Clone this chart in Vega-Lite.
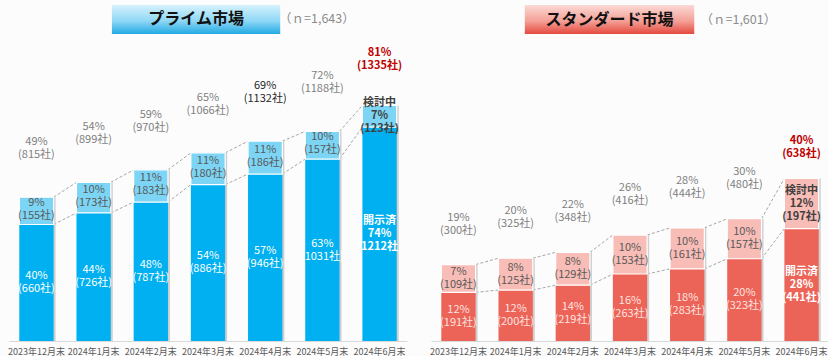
{
  "$schema": "https://vega.github.io/schema/vega-lite/v6.json",
  "background": "#fcfcfc",
  "padding": {"left": 7, "top": 0, "right": 0, "bottom": 0},
  "spacing": 22,
  "config": {
    "view": {"stroke": null},
    "font": "Noto Sans CJK JP",
    "text": {"font": "Noto Sans CJK JP"}
  },
  "datasets": {
    "prime": [
      {"month": "2023年12月末", "dis": 40.17, "total": 49.60, "disL": "40%\n(660社)", "conL": "9%\n(155社)", "totL": "49%\n(815社)"},
      {"month": "2024年1月末", "dis": 44.19, "total": 54.72, "disL": "44%\n(726社)", "conL": "10%\n(173社)", "totL": "54%\n(899社)"},
      {"month": "2024年2月末", "dis": 47.90, "total": 59.04, "disL": "48%\n(787社)", "conL": "11%\n(183社)", "totL": "59%\n(970社)"},
      {"month": "2024年3月末", "dis": 53.93, "total": 64.88, "disL": "54%\n(886社)", "conL": "11%\n(180社)", "totL": "65%\n(1066社)"},
      {"month": "2024年4月末", "dis": 57.58, "total": 68.90, "disL": "57%\n(946社)", "conL": "11%\n(186社)", "totL": "69%\n(1132社)"},
      {"month": "2024年5月末", "dis": 62.75, "total": 72.31, "disL": "63%\n(1031社)", "conL": "10%\n(157社)", "totL": "72%\n(1188社)"},
      {"month": "2024年6月末", "dis": 73.77, "total": 81.25, "disL": "開示済\n74%\n(1212社)", "conL": "検討中\n7%\n(123社)", "totL": "81%\n(1335社)"}
    ],
    "standard": [
      {"month": "2023年12月末", "dis": 11.93, "total": 18.74, "disL": "12%\n(191社)", "conL": "7%\n(109社)", "totL": "19%\n(300社)"},
      {"month": "2024年1月末", "dis": 12.49, "total": 20.30, "disL": "12%\n(200社)", "conL": "8%\n(125社)", "totL": "20%\n(325社)"},
      {"month": "2024年2月末", "dis": 13.68, "total": 21.74, "disL": "14%\n(219社)", "conL": "8%\n(129社)", "totL": "22%\n(348社)"},
      {"month": "2024年3月末", "dis": 16.43, "total": 25.98, "disL": "16%\n(263社)", "conL": "10%\n(153社)", "totL": "26%\n(416社)"},
      {"month": "2024年4月末", "dis": 17.68, "total": 27.73, "disL": "18%\n(283社)", "conL": "10%\n(161社)", "totL": "28%\n(444社)"},
      {"month": "2024年5月末", "dis": 20.17, "total": 29.98, "disL": "20%\n(323社)", "conL": "10%\n(157社)", "totL": "30%\n(480社)"},
      {"month": "2024年6月末", "dis": 27.55, "total": 39.85, "disL": "開示済\n28%\n(441社)", "conL": "検討中\n12%\n(197社)", "totL": "40%\n(638社)"}
    ]
  },
  "hconcat": [
    {
      "width": 398,
      "height": 341,
      "resolve": {"scale": {"x": "independent"}},
      "layer": [
        {
          "data": {"name": "prime"},
          "transform": [
            {"calculate": "datum.dis / 2", "as": "midDis"},
            {"calculate": "(datum.dis + datum.total) / 2", "as": "midCon"}
          ],
          "encoding": {
            "x": {
              "field": "month", "type": "nominal",
              "scale": {"paddingInner": 0.4, "paddingOuter": 0.18},
              "axis": {"title": null, "labelAngle": 0, "ticks": false, "domainColor": "#d9d9d9", "labelColor": "#595959", "labelFontSize": 9, "labelPadding": 6, "labelFont": "Noto Sans CJK JP"}
            }
          },
          "layer": [
            {
              "transform": [
                {"window": [{"op": "lead", "field": "month", "as": "nextMonth"}, {"op": "lead", "field": "total", "as": "nextTotal"}, {"op": "lead", "field": "dis", "as": "nextDis"}], "sort": [{"field": "month"}]},
                {"filter": "datum.nextMonth != null"}
              ],
              "layer": [
                {
                  "mark": {"type": "rule", "color": "#a6a6a6", "strokeDash": [3, 2], "strokeWidth": 1},
                  "encoding": {
                    "x": {"field": "month", "type": "nominal", "bandPosition": 1},
                    "x2": {"field": "nextMonth", "bandPosition": 0},
                    "y": {"field": "total", "type": "quantitative", "scale": {"domain": [0, 117.6], "nice": false}, "axis": null},
                    "y2": {"field": "nextTotal"}
                  }
                },
                {
                  "mark": {"type": "rule", "color": "#a6a6a6", "strokeDash": [3, 2], "strokeWidth": 1},
                  "encoding": {
                    "x": {"field": "month", "type": "nominal", "bandPosition": 1},
                    "x2": {"field": "nextMonth", "bandPosition": 0},
                    "y": {"field": "dis", "type": "quantitative", "scale": {"domain": [0, 117.6], "nice": false}, "axis": null},
                    "y2": {"field": "nextDis"}
                  }
                }
              ]
            },
            {
              "mark": {"type": "bar", "color": "#cfcfcf", "xOffset": 2},
              "encoding": {"y": {"field": "total", "type": "quantitative", "scale": {"domain": [0, 117.6], "nice": false}, "axis": null}}
            },
            {
              "mark": {"type": "bar", "color": "#00b0f0"},
              "encoding": {"y": {"field": "dis", "type": "quantitative", "scale": {"domain": [0, 117.6], "nice": false}, "axis": null}}
            },
            {
              "mark": {"type": "bar", "color": "#7dd5f5", "stroke": "white", "strokeWidth": 1.2},
              "encoding": {
                "y": {"field": "dis", "type": "quantitative", "scale": {"domain": [0, 117.6], "nice": false}, "axis": null},
                "y2": {"field": "total"}
              }
            },
            {
              "transform": [{"filter": "datum.month !== '2024年6月末'"}],
              "mark": {"type": "text", "lineBreak": "\n", "fontSize": 11, "lineHeight": 13, "baseline": "middle", "dy": -6.5, "color": "white"},
              "encoding": {"y": {"field": "midDis", "type": "quantitative"}, "text": {"field": "disL"}}
            },
            {
              "transform": [{"filter": "datum.month === '2024年6月末'"}],
              "mark": {"type": "text", "lineBreak": "\n", "fontSize": 11, "lineHeight": 13, "baseline": "middle", "dy": -13, "color": "white", "fontWeight": "bold"},
              "encoding": {"y": {"field": "midDis", "type": "quantitative"}, "text": {"field": "disL"}}
            },
            {
              "transform": [{"filter": "datum.month !== '2024年6月末'"}],
              "mark": {"type": "text", "lineBreak": "\n", "fontSize": 11, "lineHeight": 13, "baseline": "middle", "dy": -8, "color": "#595959"},
              "encoding": {"y": {"field": "midCon", "type": "quantitative"}, "text": {"field": "conL"}}
            },
            {
              "transform": [{"filter": "datum.month === '2024年6月末'"}],
              "mark": {"type": "text", "lineBreak": "\n", "fontSize": 11, "lineHeight": 13, "baseline": "middle", "dy": -13, "color": "#404040", "fontWeight": "bold"},
              "encoding": {"y": {"field": "midCon", "type": "quantitative"}, "text": {"field": "conL"}}
            },
            {
              "transform": [{"filter": "datum.month !== '2024年6月末'"}],
              "mark": {"type": "text", "lineBreak": "\n", "fontSize": 11, "lineHeight": 13, "baseline": "middle", "dy": -55},
              "encoding": {
                "y": {"field": "total", "type": "quantitative"},
                "text": {"field": "totL"},
                "color": {"condition": {"test": "datum.month === '2024年4月末'", "value": "#262626"}, "value": "#7f7f7f"}
              }
            },
            {
              "transform": [{"filter": "datum.month === '2024年6月末'"}],
              "mark": {"type": "text", "lineBreak": "\n", "fontSize": 11, "lineHeight": 13, "baseline": "middle", "dy": -52, "color": "#c00000", "fontWeight": "bold"},
              "encoding": {"y": {"field": "total", "type": "quantitative"}, "text": {"field": "totL"}}
            }
          ]
        },
        {
          "data": {"values": [{"title": "プライム市場", "n": "（ｎ=1,643）"}]},
          "layer": [
            {
              "mark": {"type": "rect", "color": {"gradient": "linear", "x1": 0, "y1": 0, "x2": 0, "y2": 1, "stops": [{"offset": 0, "color": "#d6f2fd"}, {"offset": 0.55, "color": "#8fd8f5"}, {"offset": 1, "color": "#22a9e3"}]}},
              "encoding": {
                "x": {"datum": 1.81, "type": "quantitative", "scale": {"domain": [0, 7], "nice": false, "zero": false}, "axis": null},
                "x2": {"datum": 4.77},
                "y": {"datum": 115.9, "type": "quantitative", "scale": {"domain": [0, 117.6], "nice": false}, "axis": null},
                "y2": {"datum": 105.9}
              }
            },
            {
              "mark": {"type": "text", "fontSize": 16, "fontWeight": "bold", "color": "#111111", "baseline": "middle", "align": "center"},
              "encoding": {
                "x": {"datum": 3.29, "type": "quantitative"},
                "y": {"datum": 110.9, "type": "quantitative"},
                "text": {"field": "title"}
              }
            },
            {
              "mark": {"type": "text", "fontSize": 12.5, "color": "#8c8c8c", "baseline": "middle", "align": "left"},
              "encoding": {
                "x": {"datum": 4.75, "type": "quantitative"},
                "y": {"datum": 110.9, "type": "quantitative"},
                "text": {"field": "n"}
              }
            }
          ]
        }
      ]
    },
    {
      "width": 398,
      "height": 341,
      "resolve": {"scale": {"x": "independent"}},
      "layer": [
        {
          "data": {"name": "standard"},
          "transform": [
            {"calculate": "datum.dis / 2", "as": "midDis"},
            {"calculate": "(datum.dis + datum.total) / 2", "as": "midCon"}
          ],
          "encoding": {
            "x": {
              "field": "month", "type": "nominal",
              "scale": {"paddingInner": 0.4, "paddingOuter": 0.18},
              "axis": {"title": null, "labelAngle": 0, "ticks": false, "domainColor": "#d9d9d9", "labelColor": "#595959", "labelFontSize": 9, "labelPadding": 6, "labelFont": "Noto Sans CJK JP"}
            }
          },
          "layer": [
            {
              "transform": [
                {"window": [{"op": "lead", "field": "month", "as": "nextMonth"}, {"op": "lead", "field": "total", "as": "nextTotal"}, {"op": "lead", "field": "dis", "as": "nextDis"}], "sort": [{"field": "month"}]},
                {"filter": "datum.nextMonth != null"}
              ],
              "layer": [
                {
                  "mark": {"type": "rule", "color": "#a6a6a6", "strokeDash": [3, 2], "strokeWidth": 1},
                  "encoding": {
                    "x": {"field": "month", "type": "nominal", "bandPosition": 1},
                    "x2": {"field": "nextMonth", "bandPosition": 0},
                    "y": {"field": "total", "type": "quantitative", "scale": {"domain": [0, 83.6], "nice": false}, "axis": null},
                    "y2": {"field": "nextTotal"}
                  }
                },
                {
                  "mark": {"type": "rule", "color": "#a6a6a6", "strokeDash": [3, 2], "strokeWidth": 1},
                  "encoding": {
                    "x": {"field": "month", "type": "nominal", "bandPosition": 1},
                    "x2": {"field": "nextMonth", "bandPosition": 0},
                    "y": {"field": "dis", "type": "quantitative", "scale": {"domain": [0, 83.6], "nice": false}, "axis": null},
                    "y2": {"field": "nextDis"}
                  }
                }
              ]
            },
            {
              "mark": {"type": "bar", "color": "#cfcfcf", "xOffset": 2},
              "encoding": {"y": {"field": "total", "type": "quantitative", "scale": {"domain": [0, 83.6], "nice": false}, "axis": null}}
            },
            {
              "mark": {"type": "bar", "color": "#ec6457"},
              "encoding": {"y": {"field": "dis", "type": "quantitative", "scale": {"domain": [0, 83.6], "nice": false}, "axis": null}}
            },
            {
              "mark": {"type": "bar", "color": "#f9bdb7", "stroke": "white", "strokeWidth": 1.2},
              "encoding": {
                "y": {"field": "dis", "type": "quantitative", "scale": {"domain": [0, 83.6], "nice": false}, "axis": null},
                "y2": {"field": "total"}
              }
            },
            {
              "transform": [{"filter": "datum.month !== '2024年6月末'"}],
              "mark": {"type": "text", "lineBreak": "\n", "fontSize": 11, "lineHeight": 13, "baseline": "middle", "dy": -6.5, "color": "#fde3e0"},
              "encoding": {"y": {"field": "midDis", "type": "quantitative"}, "text": {"field": "disL"}}
            },
            {
              "transform": [{"filter": "datum.month === '2024年6月末'"}],
              "mark": {"type": "text", "lineBreak": "\n", "fontSize": 11, "lineHeight": 13, "baseline": "middle", "dy": -13, "color": "white", "fontWeight": "bold"},
              "encoding": {"y": {"field": "midDis", "type": "quantitative"}, "text": {"field": "disL"}}
            },
            {
              "transform": [{"filter": "datum.month !== '2024年6月末'"}],
              "mark": {"type": "text", "lineBreak": "\n", "fontSize": 11, "lineHeight": 13, "baseline": "middle", "dy": -6.5, "color": "#595959"},
              "encoding": {"y": {"field": "midCon", "type": "quantitative"}, "text": {"field": "conL"}}
            },
            {
              "transform": [{"filter": "datum.month === '2024年6月末'"}],
              "mark": {"type": "text", "lineBreak": "\n", "fontSize": 11, "lineHeight": 13, "baseline": "middle", "dy": -13, "color": "#404040", "fontWeight": "bold"},
              "encoding": {"y": {"field": "midCon", "type": "quantitative"}, "text": {"field": "conL"}}
            },
            {
              "transform": [{"filter": "datum.month !== '2024年6月末'"}],
              "mark": {"type": "text", "lineBreak": "\n", "fontSize": 11, "lineHeight": 13, "baseline": "middle", "dy": -47, "color": "#7f7f7f"},
              "encoding": {"y": {"field": "total", "type": "quantitative"}, "text": {"field": "totL"}}
            },
            {
              "transform": [{"filter": "datum.month === '2024年6月末'"}],
              "mark": {"type": "text", "lineBreak": "\n", "fontSize": 11, "lineHeight": 13, "baseline": "middle", "dy": -37, "color": "#c00000", "fontWeight": "bold"},
              "encoding": {"y": {"field": "total", "type": "quantitative"}, "text": {"field": "totL"}}
            }
          ]
        },
        {
          "data": {"values": [{"title": "スタンダード市場", "n": "（ｎ=1,601）"}]},
          "layer": [
            {
              "mark": {"type": "rect", "color": {"gradient": "linear", "x1": 0, "y1": 0, "x2": 0, "y2": 1, "stops": [{"offset": 0, "color": "#fbd9d5"}, {"offset": 0.55, "color": "#f4a097"}, {"offset": 1, "color": "#e4493d"}]}},
              "encoding": {
                "x": {"datum": 1.65, "type": "quantitative", "scale": {"domain": [0, 7], "nice": false, "zero": false}, "axis": null},
                "x2": {"datum": 4.63},
                "y": {"datum": 82.35, "type": "quantitative", "scale": {"domain": [0, 83.6], "nice": false}, "axis": null},
                "y2": {"datum": 75.25}
              }
            },
            {
              "mark": {"type": "text", "fontSize": 16, "fontWeight": "bold", "color": "#111111", "baseline": "middle", "align": "center"},
              "encoding": {
                "x": {"datum": 3.14, "type": "quantitative"},
                "y": {"datum": 78.8, "type": "quantitative"},
                "text": {"field": "title"}
              }
            },
            {
              "mark": {"type": "text", "fontSize": 12.5, "color": "#8c8c8c", "baseline": "middle", "align": "left"},
              "encoding": {
                "x": {"datum": 4.74, "type": "quantitative"},
                "y": {"datum": 78.8, "type": "quantitative"},
                "text": {"field": "n"}
              }
            }
          ]
        }
      ]
    }
  ]
}
